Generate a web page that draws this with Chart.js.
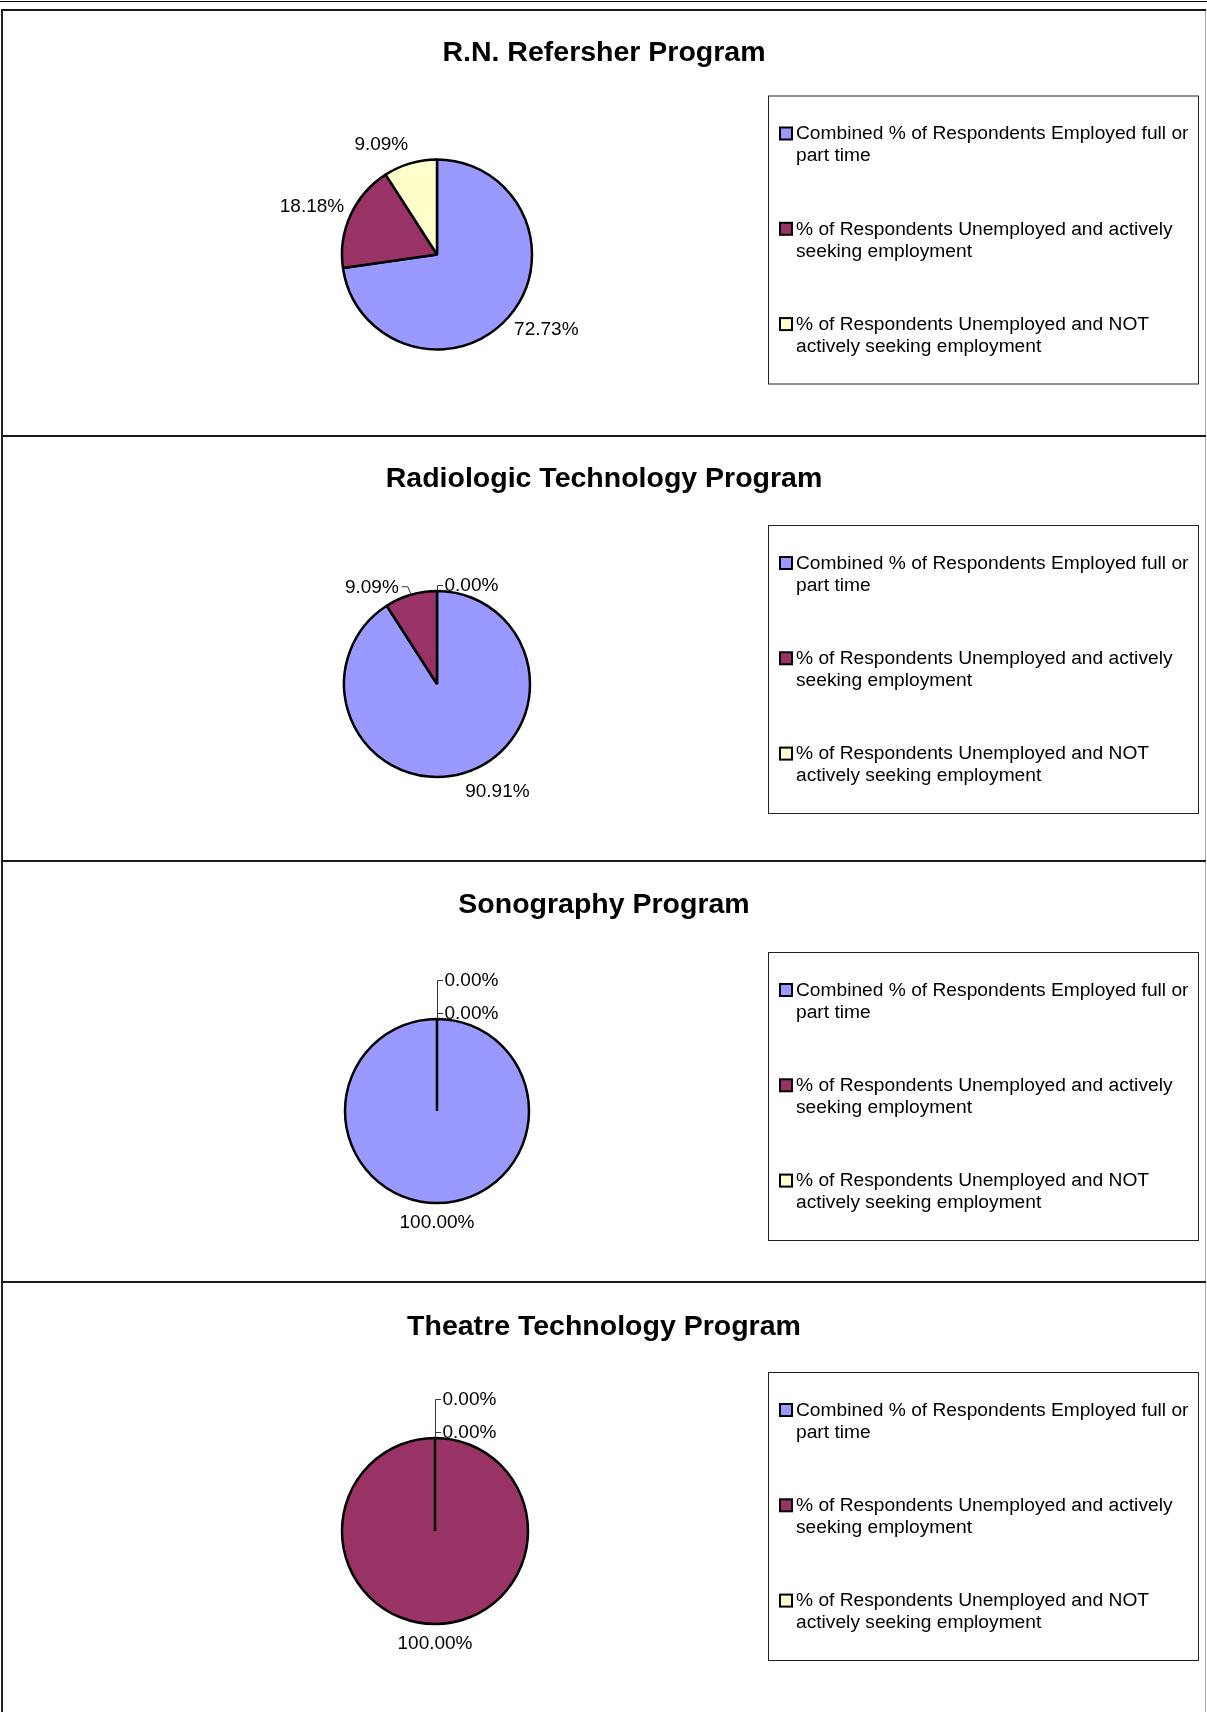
<!DOCTYPE html>
<html>
<head>
<meta charset="utf-8">
<script src="https://cdn.jsdelivr.net/npm/chart.js@4.4.1/dist/chart.umd.min.js"></script>
<style>
  body { margin: 0; background: #fff; width: 1207px; height: 1712px; position: relative; overflow: hidden; }
  .ln { position: absolute; }
  canvas { position: absolute; left: 0; }
</style>
</head>
<body>
<div class="ln" style="left:0;top:1px;width:1207px;height:1px;background:#000"></div>
<div class="ln" style="left:1px;top:9px;width:2px;height:1703px;background:#222"></div>
<div class="ln" style="left:1205px;top:9px;width:1px;height:1703px;background:#aaa"></div>
<div id="frames"></div>

<script>
// categories and values
const categories = [
    'Combined % of Respondents Employed full or part time',
    '% of Respondents Unemployed and actively seeking employment',
    '% of Respondents Unemployed and NOT actively seeking employment'
];
const programs = [
    'R.N. Refersher Program',
    'Radiologic Technology Program',
    'Sonography Program',
    'Theatre Technology Program'
];
const rnRefresher = [72.73, 18.18, 9.09];
const radiologic = [90.91, 9.09, 0];
const sonography = [100, 0, 0];
const theatre = [0, 100, 0];
const sliceColors = ['#9999FF', '#993366', '#FFFFCC'];

const series = [rnRefresher, radiologic, sonography, theatre];

// panel layout (page pixels)
const panelTops = [9, 435, 860, 1281];
const layouts = [
    { cx: 437, cy: 245.5, r: 95, titleY: 44 },
    { cx: 437, cy: 249, r: 93, titleY: 44.5 },
    { cx: 437, cy: 251, r: 92, titleY: 45.5 },
    { cx: 435, cy: 250, r: 93, titleY: 46 }
];
const W = 1207, H = 430;
const FONT = '"Liberation Sans", Arial, sans-serif';

// text, legend and data labels drawn on top of the pie
const decor = {
    id: 'decor',
    afterDraw(chart, args, opts) {
        const ctx = chart.ctx;
        const arcs = chart.getDatasetMeta(0).data;
        const values = chart.data.datasets[0].data;
        const cx = arcs[0].x, cy = arcs[0].y, r = arcs[0].outerRadius;
        ctx.save();

        // title
        ctx.fillStyle = '#000';
        ctx.font = 'bold 28.5px ' + FONT;
        ctx.textAlign = 'center';
        ctx.textBaseline = 'middle';
        ctx.fillText(opts.title, W / 2 + 0.5, opts.titleY);

        // data labels
        ctx.font = '19px ' + FONT;
        const h = 19;
        ctx.strokeStyle = '#333';
        ctx.lineWidth = 1;

        const zeros = [];
        values.forEach((v, i) => { if (v === 0) zeros.push(i); });
        const zw = ctx.measureText('0.00%').width;
        const zeroBox = { x0: cx - zw / 2, x1: cx + zw / 2, y0: cy - r - 9 - h, y1: cy - r - 9 };

        values.forEach((v, i) => {
            if (v === 0) return;
            const a = arcs[i];
            const txt = v.toFixed(2) + '%';
            const w = ctx.measureText(txt).width;
            const mid = (a.startAngle + a.endAngle) / 2;
            const c = Math.cos(mid), s = Math.sin(mid);
            const px = cx + c * (r + 7), py = cy + s * (r + 7);
            let bx = px + Math.max(-1, Math.min(1, c * 4)) * w / 2;
            let by = py + s * h * 0.65;
            const hit = zeros.length &&
                bx - w / 2 < zeroBox.x1 + 4 && bx + w / 2 > zeroBox.x0 - 4 &&
                by - h / 2 < zeroBox.y1 + 4 && by + h / 2 > zeroBox.y0 - 4;
            if (hit) {
                const ex = cx + c * r, ey = cy + s * r;
                const dir = c < 0 ? -1 : 1;
                bx = ex + dir * (12 + w / 2);
                by = ey - 7;
                const ly = by - 1;
                ctx.beginPath();
                ctx.moveTo(bx - dir * (w / 2 + 3), ly);
                ctx.lineTo(ex + dir * 3, ly);
                ctx.lineTo(ex, ey - 1);
                ctx.stroke();
            }
            ctx.fillText(txt, bx, by);
        });

        if (zeros.length) {
            ctx.textAlign = 'left';
            const ys = zeros.map((z, k) => cy - r - 5.5 - k * 33);
            ctx.beginPath();
            ctx.moveTo(cx + 0.5, cy - r);
            ctx.lineTo(cx + 0.5, ys[ys.length - 1]);
            ys.forEach(y => { ctx.moveTo(cx + 0.5, y); ctx.lineTo(cx + 6, y); });
            ctx.stroke();
            zeros.forEach((z, k) => ctx.fillText(values[z].toFixed(2) + '%', cx + 7.5, ys[k]));
        }

        // legend
        ctx.font = '19.2px ' + FONT;
        const lx0 = 768, lx1 = 1198;
        const top = cy - 159;
        ctx.strokeStyle = '#222';
        ctx.strokeRect(lx0 + 0.5, top + 0.5, lx1 - lx0, 288);
        ctx.textAlign = 'left';
        categories.forEach((cat, i) => {
            const y = top + 38.5 + i * 95.3;
            ctx.fillStyle = sliceColors[i];
            ctx.fillRect(780, y - 6.5, 12, 12);
            ctx.strokeStyle = '#000';
            ctx.lineWidth = 2;
            ctx.strokeRect(780, y - 6.5, 12, 12);
            ctx.fillStyle = '#000';
            const words = cat.split(' ');
            const lines = [];
            let line = '';
            words.forEach(wd => {
                const t = line ? line + ' ' + wd : wd;
                if (ctx.measureText(t).width > 398 && line) { lines.push(line); line = wd; }
                else line = t;
            });
            lines.push(line);
            lines.forEach((ln, k) => ctx.fillText(ln, 796, y + k * 22));
        });
        ctx.restore();
    }
};

const frames = document.getElementById('frames');
programs.forEach((name, i) => {
    const bar = document.createElement('div');
    bar.className = 'ln';
    bar.style.cssText = 'left:1px;width:1205px;height:2px;background:#1a1a1a;top:' + panelTops[i] + 'px';
    frames.appendChild(bar);

    const cv = document.createElement('canvas');
    cv.width = W;
    cv.height = H;
    cv.style.top = panelTops[i] + 'px';
    document.body.appendChild(cv);

    const lay = layouts[i];
    new Chart(cv, {
        type: 'pie',
        data: {
            labels: categories,
            datasets: [{
                data: series[i],
                backgroundColor: sliceColors,
                borderColor: '#000',
                borderWidth: 2.5,
                radius: lay.r
            }]
        },
        options: {
            responsive: false,
            animation: false,
            devicePixelRatio: 1,
            layout: { padding: { left: 0, right: W - 2 * lay.cx, top: 2 * lay.cy - H, bottom: 0 } },
            plugins: {
                legend: { display: false },
                tooltip: { enabled: false },
                decor: { title: name, titleY: lay.titleY }
            }
        },
        plugins: [decor]
    });
});
</script>
</body>
</html>
